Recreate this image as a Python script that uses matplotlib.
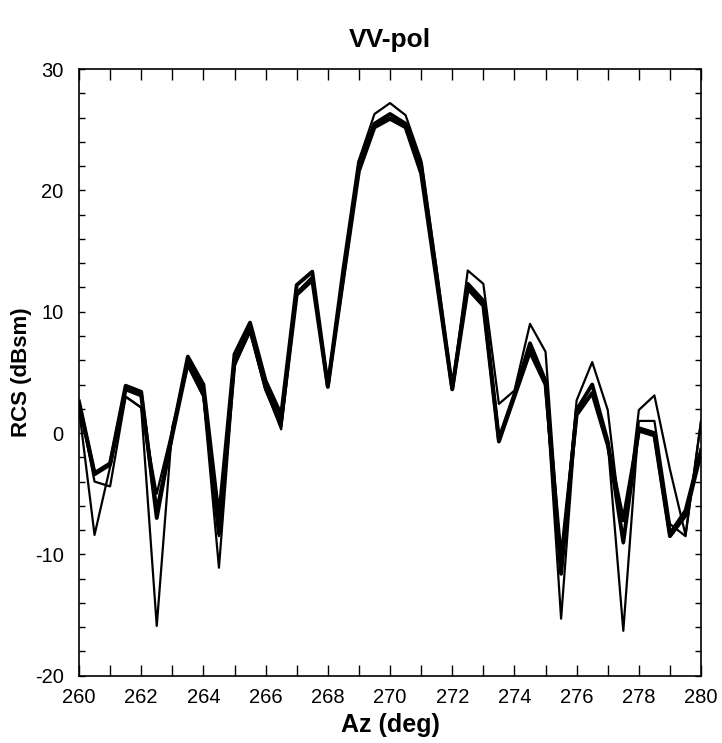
import numpy as np
import matplotlib.pyplot as plt
from matplotlib.ticker import MultipleLocator

plt.rcParams['font.family'] = ['Liberation Sans', 'DejaVu Sans']
plt.rcParams['axes.unicode_minus'] = False

az = np.arange(260, 280.01, 0.5)

# thin trace with deep nulls
rcs_a = [2.0, -8.4, -2.8, 3.0, 2.1, -15.9, 0.5, 5.6, 3.0, -11.1,
         5.5, 8.4, 3.6, 0.3, 11.4, 12.7, 3.9, 12.5, 21.7, 25.4,
         26.0, 25.3, 21.5, 12.5, 3.7, 12.3, 10.7, -0.5, 3.2, 7.0,
         4.2, -15.3, 1.8, 3.3, -0.8, -16.3, 1.0, 1.0, -7.5, -8.5, 1.0]
# thin trace, higher on the right side
rcs_b = [2.6, -4.0, -4.4, 3.0, 2.1, -5.0, 0.3, 5.5, 3.0, -8.5,
         5.6, 8.3, 3.5, 0.5, 11.6, 12.9, 3.8, 13.0, 22.5, 26.3,
         27.2, 26.2, 22.5, 13.5, 3.7, 13.4, 12.3, 2.4, 3.5, 9.0,
         6.7, -11.0, 2.7, 5.85, 1.9, -9.1, 1.9, 3.1, -3.0, -8.4, 1.0]
# thick traces
rcs_c = [2.6, -3.3, -2.5, 3.9, 3.4, -7.0, 0.0, 6.3, 4.0, -7.0,
         6.5, 9.1, 4.3, 1.5, 12.2, 13.3, 3.9, 13.5, 22.3, 25.5,
         26.3, 25.5, 22.2, 13.0, 3.7, 12.3, 10.9, -0.5, 3.2, 7.4,
         4.3, -11.6, 1.9, 4.0, -0.7, -9.0, 0.4, 0.0, -8.3, -6.4, -1.4]
rcs_d = [2.4, -3.4, -2.6, 3.6, 3.1, -6.5, -0.2, 5.8, 3.5, -8.3,
         5.8, 8.6, 3.7, 1.0, 11.4, 12.6, 3.8, 12.8, 21.6, 25.2,
         25.9, 25.2, 21.4, 12.5, 3.6, 11.9, 10.5, -0.7, 3.0, 6.7,
         4.0, -10.5, 1.5, 3.3, -1.0, -7.2, 0.2, -0.2, -8.5, -6.8, -1.6]

fig = plt.figure(figsize=(7.22, 7.43), dpi=100)
ax = fig.add_axes([0.1094, 0.0906, 0.8616, 0.8164])

ax.plot(az, rcs_a, color='black', lw=1.6)
ax.plot(az, rcs_b, color='black', lw=1.6)
ax.plot(az, rcs_c, color='black', lw=2.8)
ax.plot(az, rcs_d, color='black', lw=2.8)

ax.set_xlim(260, 280)
ax.set_ylim(-20, 30)
ax.xaxis.set_major_locator(MultipleLocator(2))
ax.xaxis.set_minor_locator(MultipleLocator(1))
ax.yaxis.set_major_locator(MultipleLocator(10))
ax.yaxis.set_minor_locator(MultipleLocator(2))
ax.tick_params(which='both', direction='in', top=True, right=True, labelsize=14.5)
ax.tick_params(axis='x', which='both', length=8, width=1, pad=9)
ax.tick_params(axis='y', which='both', length=4, width=1, pad=11)
for s in ax.spines.values():
    s.set_linewidth(1.2)

ax.set_title('VV-pol', fontsize=19, fontweight='bold', pad=16)
ax.set_xlabel('Az (deg)', fontsize=18, fontweight='bold', labelpad=4)
ax.set_ylabel('RCS (dBsm)', fontsize=16, fontweight='bold', labelpad=2)

fig.savefig('out.png', dpi=100)
